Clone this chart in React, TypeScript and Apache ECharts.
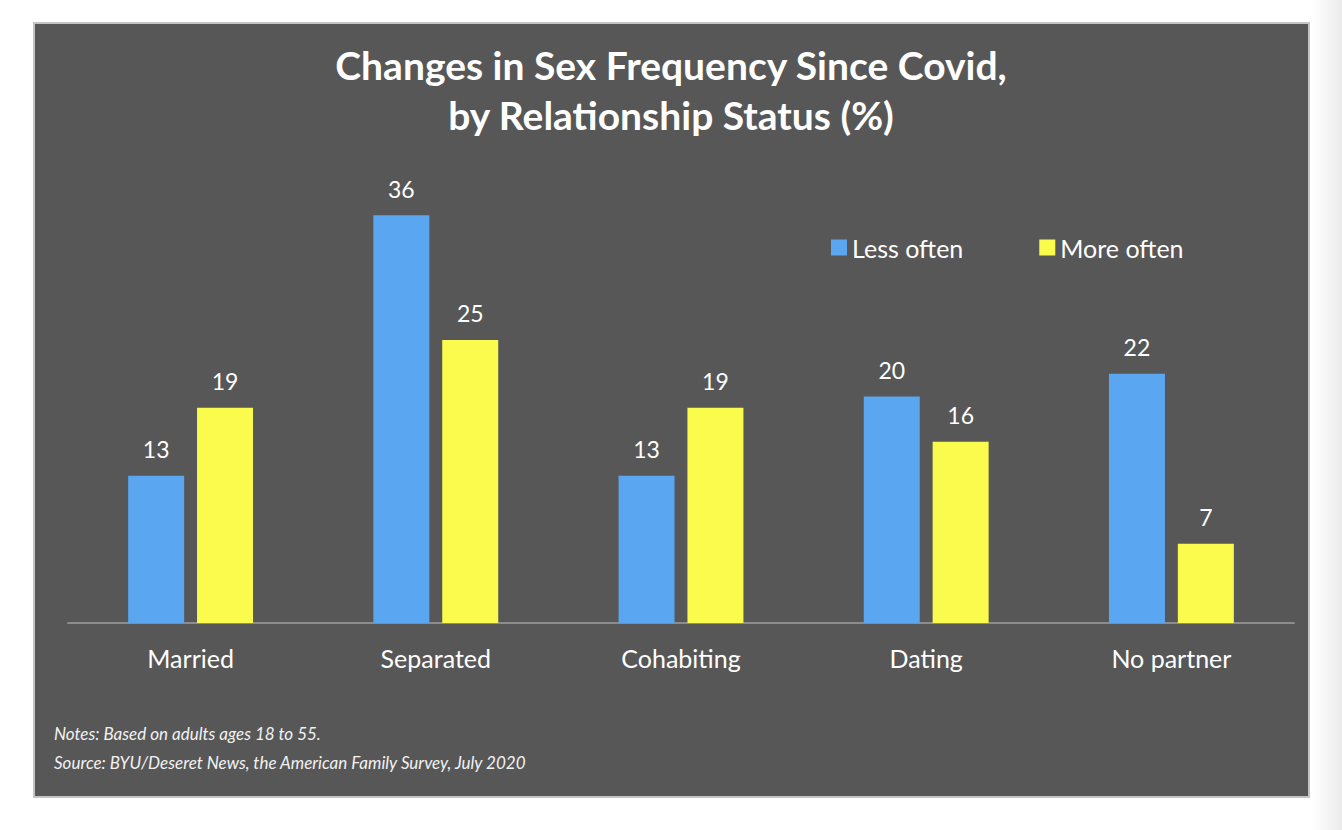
import React, { useEffect, useRef } from "react";
import * as echarts from "echarts";

const categories = ["Married", "Separated", "Cohabiting", "Dating", "No partner"];
const lessOften = [13, 36, 13, 20, 22];
const moreOften = [19, 25, 19, 16, 7];
const seriesNames = ["Less often", "More often"];
const titleLines = ["Changes in Sex Frequency Since Covid,", "by Relationship Status (%)"];
const noteLines = [
  "Notes: Based on adults ages 18 to 55.",
  "Source: BYU/Deseret News, the American Family Survey, July 2020",
];

const FONT = "Lato, 'Open Sans', sans-serif";

export default function App() {
  const ref = useRef<HTMLDivElement>(null);
  useEffect(() => {
    if (!ref.current) return;
    const chart = echarts.init(ref.current, undefined, { renderer: "svg" });
    const labelStyle = {
      show: true,
      position: "top" as const,
      distance: 15,
      color: "#ffffff",
      fontSize: 23,
      fontFamily: FONT,
    };
    chart.setOption({
      animation: false,
      backgroundColor: "#ffffff",
      textStyle: { fontFamily: FONT },
      graphic: [
        {
          type: "rect",
          z: -10,
          shape: { x: 1312, y: 0, width: 30, height: 830 },
          style: {
            fill: new echarts.graphic.LinearGradient(0, 0, 1, 0, [
              { offset: 0, color: "#ffffff" },
              { offset: 1, color: "#ebebeb" },
            ]),
          },
          silent: true,
        },
        {
          type: "rect",
          z: -10,
          shape: { x: 34, y: 23, width: 1275, height: 774 },
          style: { fill: "#575757", stroke: "#c4c4c4", lineWidth: 2 },
          silent: true,
        },
        {
          type: "text",
          left: 54,
          top: 719,
          style: {
            text: noteLines.join("\n"),
            fill: "#f2f2f2",
            font: `italic 17px ${FONT}`,
            lineHeight: 29,
          },
        },
      ],
      title: {
        text: titleLines.join("\n"),
        left: "center",
        top: 35,
        textStyle: {
          color: "#ffffff",
          fontSize: 39,
          fontWeight: "bold",
          fontFamily: FONT,
          lineHeight: 50,
        },
      },
      legend: {
        data: seriesNames,
        left: 826,
        top: 230,
        icon: "rect",
        itemWidth: 16,
        itemHeight: 16,
        itemGap: 76,
        textStyle: { color: "#ffffff", fontSize: 25, fontFamily: FONT },
      },
      grid: { left: 68, right: 48, top: 170, bottom: 207, containLabel: false },
      xAxis: {
        type: "category",
        data: categories,
        axisLine: { lineStyle: { color: "#8c8c8c", width: 2 } },
        axisTick: { show: false },
        axisLabel: { color: "#ffffff", fontSize: 25, margin: 22, fontFamily: FONT },
      },
      yAxis: {
        type: "value",
        min: 0,
        max: 40,
        show: false,
        splitLine: { show: false },
      },
      series: [
        {
          name: seriesNames[0],
          type: "bar",
          data: lessOften,
          barWidth: 56,
          barGap: "23%",
          itemStyle: { color: "#5aa6f0" },
          label: labelStyle,
        },
        {
          name: seriesNames[1],
          type: "bar",
          data: moreOften,
          barWidth: 56,
          itemStyle: { color: "#fbfb4e" },
          label: labelStyle,
        },
      ],
    });
    return () => chart.dispose();
  }, []);
  return (
    <div
      ref={ref}
      style={{ position: "absolute", left: 0, top: 0, width: 1342, height: 830 }}
    />
  );
}
